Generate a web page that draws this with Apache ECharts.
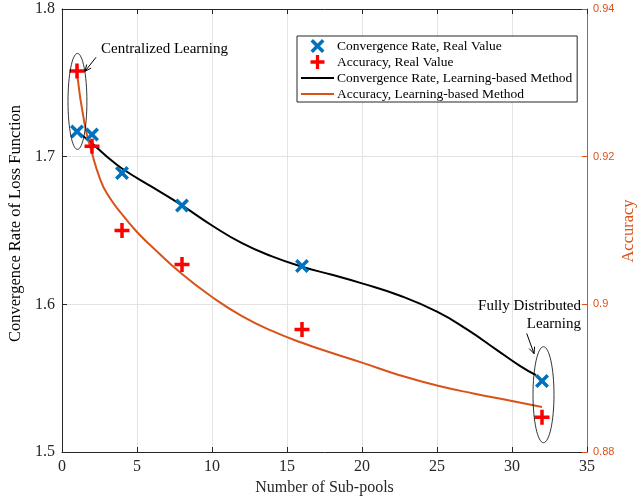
<!DOCTYPE html>
<html>
<head>
<meta charset="utf-8">
<script src="https://cdn.jsdelivr.net/npm/echarts@6/dist/echarts.min.js"></script>
<style>
html,body{margin:0;padding:0;background:#fff;}
#chart{width:637px;height:501px;}
</style>
</head>
<body>
<div id="chart"></div>
<script>
// ---- data ----
var subPools = [1, 2, 4, 8, 16, 32];
var convReal = [1.717, 1.715, 1.689, 1.667, 1.626, 1.548];
var accReal = [0.9316, 0.9214, 0.9100, 0.9054, 0.8966, 0.8847];

var convFitX = [1, 2, 3, 4, 6, 8, 10, 12, 14, 16, 18, 20, 22.5, 25, 27, 29, 30.5, 31.6];
var convFitY = [1.717, 1.709, 1.700, 1.692, 1.6795, 1.667, 1.6534, 1.6414, 1.6325, 1.6255, 1.6200, 1.6142, 1.6060, 1.5950, 1.5830, 1.5690, 1.5585, 1.552];

var accFitX = [1, 1.5, 2, 2.5, 3, 4, 5, 6, 8, 10, 12, 14, 16, 18, 20, 22.5, 25, 27.5, 30, 32];
var accFitY = [0.9313, 0.9245, 0.9205, 0.9172, 0.9150, 0.9122, 0.9098, 0.9078, 0.9041, 0.9010, 0.8984, 0.8964, 0.8948, 0.8934, 0.8921, 0.8904, 0.8890, 0.8879, 0.8869, 0.8861];

var xTicks = {min: 0, max: 35, interval: 5};
var yLeftTicks = {min: 1.5, max: 1.8, interval: 0.1};
var yRightTicks = {min: 0.88, max: 0.94, interval: 0.02};

var seriesNames = [
  'Convergence Rate, Real Value',
  'Accuracy, Real Value',
  'Convergence Rate, Learning-based Method',
  'Accuracy, Learning-based Method'
];
var rightAxisTitle = 'Accuracy';

// annotations (data units of left axis): ellipses [cx, cy, rx, ry]
var ellipses = [[1.03, 1.7374, 0.63, 0.0325], [32.1, 1.5388, 0.7, 0.0325]];
// arrows [fromX, fromY, toX, toY]
var arrows = [[2.27, 1.7673, 1.53, 1.7578], [30.98, 1.5803, 31.47, 1.5666]];
// labels [x, y, text, align]
var notes = [[2.6, 1.7727, 'Centralized Learning', 'left'], [34.6, 1.593, 'Fully Distributed\nLearning', 'right']];

// ---- styling ----
var SERIF = '"Liberation Serif", "DejaVu Serif", serif';
var SANS = '"Liberation Sans", Arial, sans-serif';
var BLUE = '#0072BD', RED = '#FF0000', ORANGE = '#D95319', AX = '#262626';
var X_PATH = 'path://M0,2.5L2.5,0L7,4.5L11.5,0L14,2.5L9.5,7L14,11.5L11.5,14L7,9.5L2.5,14L0,11.5L4.5,7Z';
var PLUS_PATH = 'path://M5.75,0H9.25V5.75H15V9.25H9.25V15H5.75V9.25H0V5.75H5.75Z';
var LINE_ICON = 'path://M0,0H33V2.2H0Z';

function zip(a, b) { return a.map(function (v, i) { return [v, b[i]]; }); }

var chart = echarts.init(document.getElementById('chart'), null, {renderer: 'canvas'});

var option = {
  animation: false,
  backgroundColor: '#fff',
  grid: {left: 62, right: 50, top: 9, bottom: 49, containLabel: false, outerBoundsMode: 'none'},
  graphic: [{
    type: 'text', x: 629, y: 231, rotation: Math.PI / 2, silent: true,
    style: {text: rightAxisTitle, align: 'center', verticalAlign: 'middle',
      font: '16.5px ' + SERIF, fill: ORANGE}
  }],
  legend: {
    orient: 'vertical',
    left: 297, top: 36,
    padding: [3, 5, 1, 4],
    itemGap: 2,
    itemWidth: 33, itemHeight: 14,
    borderColor: AX, borderWidth: 1,
    backgroundColor: '#fff',
    textStyle: {fontFamily: SERIF, fontSize: 13.5, color: '#000', padding: [0, 0, 0, -2]},
    selectedMode: false,
    data: [
      {name: seriesNames[0]},
      {name: seriesNames[1]},
      {name: seriesNames[2], icon: LINE_ICON, itemStyle: {color: '#000'}},
      {name: seriesNames[3], icon: LINE_ICON, itemStyle: {color: ORANGE}}
    ]
  },
  xAxis: [{
    type: 'value', position: 'bottom',
    min: xTicks.min, max: xTicks.max, interval: xTicks.interval,
    name: 'Number of Sub-pools', nameLocation: 'middle', nameGap: 27,
    nameTextStyle: {fontFamily: SERIF, fontSize: 16, color: AX},
    axisLine: {show: true, onZero: false, lineStyle: {color: AX, width: 1}},
    axisTick: {show: true, inside: true, length: 5, lineStyle: {color: AX}},
    axisLabel: {fontFamily: SERIF, fontSize: 16, color: AX, margin: 7},
    splitLine: {show: true, lineStyle: {color: '#e3e3e3', width: 1}}
  }, {
    type: 'value', position: 'top',
    min: xTicks.min, max: xTicks.max, interval: xTicks.interval,
    axisLine: {show: true, onZero: false, lineStyle: {color: AX, width: 1}},
    axisTick: {show: true, inside: true, length: 5, lineStyle: {color: AX}},
    axisLabel: {show: false},
    splitLine: {show: false}
  }],
  yAxis: [{
    type: 'value', position: 'left',
    min: yLeftTicks.min, max: yLeftTicks.max, interval: yLeftTicks.interval,
    name: 'Convergence Rate of Loss Function', nameLocation: 'middle', nameGap: 36, nameRotate: 90,
    nameTextStyle: {fontFamily: SERIF, fontSize: 16.5, color: '#000', padding: [0, 0, 0, 14]},
    axisLine: {show: true, onZero: false, lineStyle: {color: AX, width: 1}},
    axisTick: {show: true, inside: true, length: 5, lineStyle: {color: AX}},
    axisLabel: {fontFamily: SERIF, fontSize: 16, color: AX, margin: 7,
      formatter: function (v) { return v.toFixed(1); }},
    splitLine: {show: true, lineStyle: {color: '#e3e3e3', width: 1}}
  }, {
    type: 'value', position: 'right',
    min: yRightTicks.min, max: yRightTicks.max, interval: yRightTicks.interval,
    axisLine: {show: true, onZero: false, lineStyle: {color: ORANGE, width: 1}},
    axisTick: {show: true, inside: true, length: 5, lineStyle: {color: ORANGE}},
    axisLabel: {fontFamily: SANS, fontSize: 11, color: ORANGE, margin: 6,
      formatter: function (v) { return String(parseFloat(v.toFixed(2))); }},
    splitLine: {show: false}
  }],
  series: [{
    name: seriesNames[2], type: 'line', xAxisIndex: 0, yAxisIndex: 0,
    data: zip(convFitX, convFitY), smooth: 0.5,
    symbol: 'none', lineStyle: {color: '#000', width: 2}, itemStyle: {color: '#000'}, z: 2
  }, {
    name: seriesNames[3], type: 'line', xAxisIndex: 0, yAxisIndex: 1,
    data: zip(accFitX, accFitY), smooth: 0.5,
    symbol: 'none', lineStyle: {color: ORANGE, width: 2}, itemStyle: {color: ORANGE}, z: 2
  }, {
    name: seriesNames[0], type: 'scatter', xAxisIndex: 0, yAxisIndex: 0,
    data: zip(subPools, convReal), symbol: X_PATH, symbolSize: 14,
    itemStyle: {color: BLUE, opacity: 1}, z: 4
  }, {
    name: seriesNames[1], type: 'scatter', xAxisIndex: 0, yAxisIndex: 1,
    data: zip(subPools, accReal), symbol: PLUS_PATH, symbolSize: 15,
    itemStyle: {color: RED, opacity: 1}, z: 4
  }, {
    name: 'ellipses', type: 'custom', xAxisIndex: 0, yAxisIndex: 0, silent: true, z: 5,
    data: ellipses,
    renderItem: function (params, api) {
      var c = api.coord([api.value(0), api.value(1)]);
      var p = api.coord([api.value(0) + api.value(2), api.value(1) + api.value(3)]);
      return {
        type: 'ellipse',
        shape: {cx: c[0], cy: c[1], rx: Math.abs(p[0] - c[0]), ry: Math.abs(p[1] - c[1])},
        style: {fill: 'none', stroke: '#000', lineWidth: 0.8}
      };
    }
  }, {
    name: 'arrows', type: 'custom', xAxisIndex: 0, yAxisIndex: 0, silent: true, z: 5,
    data: arrows,
    renderItem: function (params, api) {
      var a = api.coord([api.value(0), api.value(1)]);
      var b = api.coord([api.value(2), api.value(3)]);
      var ang = Math.atan2(b[1] - a[1], b[0] - a[0]);
      var L = 7, s = 0.42;
      var h1 = [b[0] - L * Math.cos(ang - s), b[1] - L * Math.sin(ang - s)];
      var h2 = [b[0] - L * Math.cos(ang + s), b[1] - L * Math.sin(ang + s)];
      return {
        type: 'group',
        children: [
          {type: 'line', shape: {x1: a[0], y1: a[1], x2: b[0], y2: b[1]}, style: {stroke: '#000', lineWidth: 1}},
          {type: 'polyline', shape: {points: [h1, b, h2]}, style: {stroke: '#000', lineWidth: 1, fill: 'none'}}
        ]
      };
    }
  }, {
    name: 'notes', type: 'custom', xAxisIndex: 0, yAxisIndex: 0, silent: true, z: 5,
    data: notes.map(function (n) { return [n[0], n[1]]; }),
    renderItem: function (params, api) {
      var n = notes[params.dataIndex];
      var c = api.coord([api.value(0), api.value(1)]);
      return {
        type: 'text',
        style: {
          x: c[0], y: c[1], text: n[2], align: n[3], verticalAlign: 'middle',
          font: '15px ' + SERIF, fill: '#000', lineHeight: 18
        }
      };
    }
  }]
};
chart.setOption(option);
</script>
</body>
</html>
